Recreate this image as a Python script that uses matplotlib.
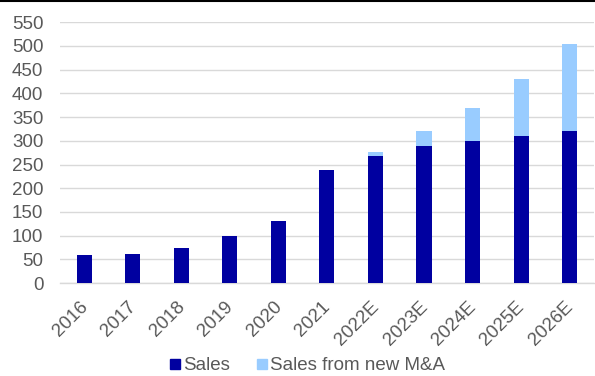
import matplotlib
matplotlib.use("Agg")
import matplotlib.pyplot as plt
import matplotlib.transforms as mtransforms
from matplotlib.lines import Line2D
import numpy as np

categories = ["2016", "2017", "2018", "2019", "2020", "2021",
              "2022E", "2023E", "2024E", "2025E", "2026E"]
sales = [59, 61, 73, 99, 130, 238, 268, 289, 299, 310, 320]
sales_ma = [0, 0, 0, 0, 0, 0, 9, 32, 70, 121, 185]

plt.rcParams['font.family'] = ['Liberation Sans', 'DejaVu Sans']

fig = plt.figure(figsize=(5.95, 3.76), dpi=100)
ax = fig.add_axes([0.101, 0.247, 0.897, 0.694])

x = np.arange(len(categories))
w = 0.31
c1 = "#0000A0"
c2 = "#99CCFF"
ax.bar(x, sales, w, color=c1, zorder=3, label="Sales")
ax.bar(x, sales_ma, w, bottom=sales, color=c2, zorder=3, label="Sales from new M&A")

ax.set_xlim(-0.5, len(categories) - 0.5)
ax.set_ylim(0, 550)
ax.set_yticks(np.arange(0, 551, 50))
ax.yaxis.grid(True, color="#D9D9D9", linewidth=1.0, zorder=0)
ax.set_axisbelow(True)
for s in ["top", "right", "left"]:
    ax.spines[s].set_visible(False)
ax.spines["bottom"].set_color("#D9D9D9")
ax.spines["bottom"].set_linewidth(1.0)
ax.tick_params(axis="both", length=0, colors="#595959", labelsize=13.5)
ax.tick_params(axis="y", pad=12)
ax.tick_params(axis="x", pad=0)
ax.set_xticks(x)
ax.set_xticklabels(categories, rotation=45, ha="right", va="baseline",
                   rotation_mode="anchor")
offset = mtransforms.ScaledTranslation(4 / 100, -24.5 / 100, fig.dpi_scale_trans)
for lbl in ax.get_xticklabels():
    lbl.set_transform(lbl.get_transform() + offset)

handles = [Line2D([], [], marker="s", linestyle="none", markersize=7.2, color=c1),
           Line2D([], [], marker="s", linestyle="none", markersize=7.2, color=c2)]
fig.legend(handles, ["Sales", "Sales from new M&A"], loc="center",
           bbox_to_anchor=(0.516, 0.027), ncol=2, frameon=False,
           fontsize=13.5, labelcolor="#595959", handletextpad=0.15,
           columnspacing=1.4, handlelength=0.6, borderpad=0, borderaxespad=0)

fig.add_artist(Line2D([0, 1], [0.998, 0.998], transform=fig.transFigure,
                      color="black", linewidth=1.5))

fig.savefig("out.png", dpi=100)
